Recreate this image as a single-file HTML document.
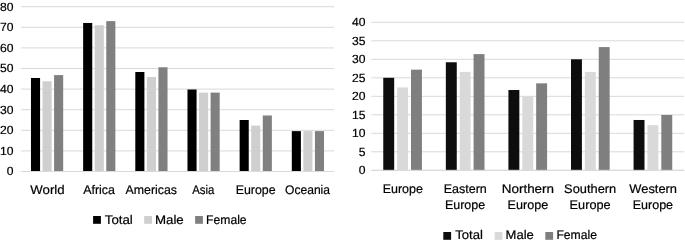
<!DOCTYPE html>
<html><head><meta charset="utf-8"><title>Charts</title>
<style>
html,body{margin:0;padding:0;background:#fff;}
svg{display:block;}
text{font-family:"Liberation Sans", sans-serif;font-size:12.5px;fill:#000;stroke:#000;stroke-width:0.2px;text-rendering:geometricPrecision;}
</style></head><body>
<svg width="685" height="244" viewBox="0 0 685 244">
<rect x="0" y="0" width="685" height="244" fill="#ffffff"/>

<line x1="21.00" y1="171.50" x2="334.00" y2="171.50" stroke="#d9d9d9" stroke-width="1"/>
<line x1="21.00" y1="150.90" x2="334.00" y2="150.90" stroke="#d9d9d9" stroke-width="1"/>
<line x1="21.00" y1="130.30" x2="334.00" y2="130.30" stroke="#d9d9d9" stroke-width="1"/>
<line x1="21.00" y1="109.70" x2="334.00" y2="109.70" stroke="#d9d9d9" stroke-width="1"/>
<line x1="21.00" y1="89.10" x2="334.00" y2="89.10" stroke="#d9d9d9" stroke-width="1"/>
<line x1="21.00" y1="68.50" x2="334.00" y2="68.50" stroke="#d9d9d9" stroke-width="1"/>
<line x1="21.00" y1="47.90" x2="334.00" y2="47.90" stroke="#d9d9d9" stroke-width="1"/>
<line x1="21.00" y1="27.30" x2="334.00" y2="27.30" stroke="#d9d9d9" stroke-width="1"/>
<line x1="21.00" y1="6.70" x2="334.00" y2="6.70" stroke="#d9d9d9" stroke-width="1"/>
<rect x="30.97" y="77.98" width="9.10" height="93.52" fill="#000000"/>
<rect x="42.53" y="81.27" width="9.10" height="90.23" fill="#cfcfcf"/>
<rect x="54.09" y="75.09" width="9.10" height="96.41" fill="#808080"/>
<rect x="83.14" y="22.97" width="9.10" height="148.53" fill="#000000"/>
<rect x="94.70" y="25.24" width="9.10" height="146.26" fill="#cfcfcf"/>
<rect x="106.26" y="21.12" width="9.10" height="150.38" fill="#808080"/>
<rect x="135.30" y="72.00" width="9.10" height="99.50" fill="#000000"/>
<rect x="146.86" y="76.95" width="9.10" height="94.55" fill="#cfcfcf"/>
<rect x="158.43" y="67.26" width="9.10" height="104.24" fill="#808080"/>
<rect x="187.47" y="89.51" width="9.10" height="81.99" fill="#000000"/>
<rect x="199.03" y="92.60" width="9.10" height="78.90" fill="#cfcfcf"/>
<rect x="210.59" y="92.60" width="9.10" height="78.90" fill="#808080"/>
<rect x="239.64" y="120.00" width="9.10" height="51.50" fill="#000000"/>
<rect x="251.20" y="125.56" width="9.10" height="45.94" fill="#cfcfcf"/>
<rect x="262.76" y="115.47" width="9.10" height="56.03" fill="#808080"/>
<rect x="291.80" y="131.12" width="9.10" height="40.38" fill="#000000"/>
<rect x="303.36" y="131.12" width="9.10" height="40.38" fill="#cfcfcf"/>
<rect x="314.93" y="131.12" width="9.10" height="40.38" fill="#808080"/>
<line x1="21.00" y1="171.50" x2="334.00" y2="171.50" stroke="#d9d9d9" stroke-width="1"/>
<text x="13.60" y="175.30" text-anchor="end" style="font-size:11.8px" textLength="6.75" lengthAdjust="spacingAndGlyphs">0</text>
<text x="13.60" y="154.70" text-anchor="end" style="font-size:11.8px" textLength="13.50" lengthAdjust="spacingAndGlyphs">10</text>
<text x="13.60" y="134.10" text-anchor="end" style="font-size:11.8px" textLength="13.50" lengthAdjust="spacingAndGlyphs">20</text>
<text x="13.60" y="113.50" text-anchor="end" style="font-size:11.8px" textLength="13.50" lengthAdjust="spacingAndGlyphs">30</text>
<text x="13.60" y="92.90" text-anchor="end" style="font-size:11.8px" textLength="13.50" lengthAdjust="spacingAndGlyphs">40</text>
<text x="13.60" y="72.30" text-anchor="end" style="font-size:11.8px" textLength="13.50" lengthAdjust="spacingAndGlyphs">50</text>
<text x="13.60" y="51.70" text-anchor="end" style="font-size:11.8px" textLength="13.50" lengthAdjust="spacingAndGlyphs">60</text>
<text x="13.60" y="31.10" text-anchor="end" style="font-size:11.8px" textLength="13.50" lengthAdjust="spacingAndGlyphs">70</text>
<text x="13.60" y="10.50" text-anchor="end" style="font-size:11.8px" textLength="13.50" lengthAdjust="spacingAndGlyphs">80</text>
<rect x="93.10" y="216.00" width="7.80" height="7.80" fill="#000000"/>
<rect x="144.20" y="216.00" width="7.80" height="7.80" fill="#cfcfcf"/>
<rect x="195.10" y="216.00" width="7.80" height="7.80" fill="#808080"/>
<line x1="371.30" y1="170.30" x2="684.20" y2="170.30" stroke="#d9d9d9" stroke-width="1"/>
<line x1="371.30" y1="151.80" x2="684.20" y2="151.80" stroke="#d9d9d9" stroke-width="1"/>
<line x1="371.30" y1="133.30" x2="684.20" y2="133.30" stroke="#d9d9d9" stroke-width="1"/>
<line x1="371.30" y1="114.80" x2="684.20" y2="114.80" stroke="#d9d9d9" stroke-width="1"/>
<line x1="371.30" y1="96.30" x2="684.20" y2="96.30" stroke="#d9d9d9" stroke-width="1"/>
<line x1="371.30" y1="77.80" x2="684.20" y2="77.80" stroke="#d9d9d9" stroke-width="1"/>
<line x1="371.30" y1="59.30" x2="684.20" y2="59.30" stroke="#d9d9d9" stroke-width="1"/>
<line x1="371.30" y1="40.80" x2="684.20" y2="40.80" stroke="#d9d9d9" stroke-width="1"/>
<line x1="371.30" y1="22.30" x2="684.20" y2="22.30" stroke="#d9d9d9" stroke-width="1"/>
<rect x="383.26" y="77.80" width="10.92" height="92.50" fill="#0d0d0d"/>
<rect x="397.13" y="87.42" width="10.92" height="82.88" fill="#d9d9d9"/>
<rect x="411.00" y="69.66" width="10.92" height="100.64" fill="#7f7f7f"/>
<rect x="445.84" y="62.26" width="10.92" height="108.04" fill="#0d0d0d"/>
<rect x="459.71" y="71.88" width="10.92" height="98.42" fill="#d9d9d9"/>
<rect x="473.58" y="54.12" width="10.92" height="116.18" fill="#7f7f7f"/>
<rect x="508.42" y="90.01" width="10.92" height="80.29" fill="#0d0d0d"/>
<rect x="522.29" y="96.30" width="10.92" height="74.00" fill="#d9d9d9"/>
<rect x="536.16" y="83.35" width="10.92" height="86.95" fill="#7f7f7f"/>
<rect x="571.00" y="59.30" width="10.92" height="111.00" fill="#0d0d0d"/>
<rect x="584.87" y="71.88" width="10.92" height="98.42" fill="#d9d9d9"/>
<rect x="598.74" y="47.09" width="10.92" height="123.21" fill="#7f7f7f"/>
<rect x="633.58" y="119.98" width="10.92" height="50.32" fill="#0d0d0d"/>
<rect x="647.45" y="125.16" width="10.92" height="45.14" fill="#d9d9d9"/>
<rect x="661.32" y="114.99" width="10.92" height="55.31" fill="#7f7f7f"/>
<line x1="371.30" y1="170.30" x2="684.20" y2="170.30" stroke="#d9d9d9" stroke-width="1"/>
<text x="365.40" y="174.10" text-anchor="end" style="font-size:11.8px" textLength="6.75" lengthAdjust="spacingAndGlyphs">0</text>
<text x="365.40" y="155.60" text-anchor="end" style="font-size:11.8px" textLength="6.75" lengthAdjust="spacingAndGlyphs">5</text>
<text x="365.40" y="137.10" text-anchor="end" style="font-size:11.8px" textLength="13.50" lengthAdjust="spacingAndGlyphs">10</text>
<text x="365.40" y="118.60" text-anchor="end" style="font-size:11.8px" textLength="13.50" lengthAdjust="spacingAndGlyphs">15</text>
<text x="365.40" y="100.10" text-anchor="end" style="font-size:11.8px" textLength="13.50" lengthAdjust="spacingAndGlyphs">20</text>
<text x="365.40" y="81.60" text-anchor="end" style="font-size:11.8px" textLength="13.50" lengthAdjust="spacingAndGlyphs">25</text>
<text x="365.40" y="63.10" text-anchor="end" style="font-size:11.8px" textLength="13.50" lengthAdjust="spacingAndGlyphs">30</text>
<text x="365.40" y="44.60" text-anchor="end" style="font-size:11.8px" textLength="13.50" lengthAdjust="spacingAndGlyphs">35</text>
<text x="365.40" y="26.10" text-anchor="end" style="font-size:11.8px" textLength="13.50" lengthAdjust="spacingAndGlyphs">40</text>
<rect x="443.30" y="232.00" width="7.80" height="7.80" fill="#0d0d0d"/>
<rect x="494.60" y="232.00" width="7.80" height="7.80" fill="#d9d9d9"/>
<rect x="545.30" y="232.00" width="7.80" height="7.80" fill="#7f7f7f"/>
<text x="30.36" y="193.50" textLength="34.32" lengthAdjust="spacingAndGlyphs">World</text>
<text x="83.21" y="193.50" textLength="31.81" lengthAdjust="spacingAndGlyphs">Africa</text>
<text x="125.61" y="193.50" textLength="51.38" lengthAdjust="spacingAndGlyphs">Americas</text>
<text x="192.17" y="193.50" textLength="22.15" lengthAdjust="spacingAndGlyphs">Asia</text>
<text x="235.63" y="193.50" textLength="39.95" lengthAdjust="spacingAndGlyphs">Europe</text>
<text x="285.05" y="193.50" textLength="44.95" lengthAdjust="spacingAndGlyphs">Oceania</text>
<text x="104.83" y="223.50" textLength="27.98" lengthAdjust="spacingAndGlyphs">Total</text>
<text x="154.92" y="223.50" textLength="28.82" lengthAdjust="spacingAndGlyphs">Male</text>
<text x="206.07" y="223.50" textLength="40.58" lengthAdjust="spacingAndGlyphs">Female</text>
<text x="382.63" y="192.80" textLength="40.24" lengthAdjust="spacingAndGlyphs">Europe</text>
<text x="443.69" y="192.80" textLength="43.15" lengthAdjust="spacingAndGlyphs">Eastern</text>
<text x="445.03" y="209.30" textLength="40.11" lengthAdjust="spacingAndGlyphs">Europe</text>
<text x="501.76" y="192.80" textLength="52.30" lengthAdjust="spacingAndGlyphs">Northern</text>
<text x="507.53" y="209.30" textLength="40.64" lengthAdjust="spacingAndGlyphs">Europe</text>
<text x="564.12" y="192.80" textLength="52.13" lengthAdjust="spacingAndGlyphs">Southern</text>
<text x="569.63" y="209.30" textLength="40.96" lengthAdjust="spacingAndGlyphs">Europe</text>
<text x="629.36" y="192.80" textLength="47.67" lengthAdjust="spacingAndGlyphs">Western</text>
<text x="632.75" y="209.30" textLength="40.31" lengthAdjust="spacingAndGlyphs">Europe</text>
<text x="455.26" y="239.45" textLength="27.71" lengthAdjust="spacingAndGlyphs">Total</text>
<text x="505.58" y="239.45" textLength="28.28" lengthAdjust="spacingAndGlyphs">Male</text>
<text x="556.39" y="239.45" textLength="40.54" lengthAdjust="spacingAndGlyphs">Female</text>
</svg>
</body></html>
